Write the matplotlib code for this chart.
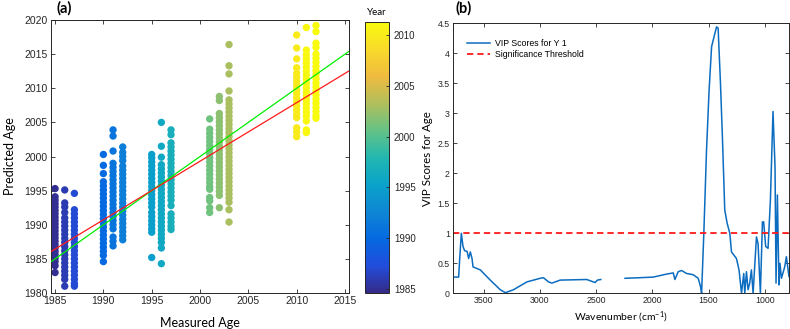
import numpy as np
import matplotlib.pyplot as plt
from matplotlib.colors import LinearSegmentedColormap
from matplotlib.ticker import FormatStrFormatter

plt.rcParams['font.family'] = ['Liberation Sans', 'DejaVu Sans']
plt.rcParams['mathtext.default'] = 'regular'

# ---- panel (a): predicted vs measured age ----
measured_years = [1985, 1986, 1987, 1990, 1991, 1992, 1995, 1996, 1997,
                  2001, 2002, 2003, 2010, 2011, 2012]

pred_1985 = [1995.3, 1994.1, 1993.6, 1993.1, 1992.6, 1992.1, 1991.6, 1991.1, 1990.6,
             1990.1, 1989.6, 1989.1, 1988.6, 1988.1, 1987.6, 1987.1, 1986.6, 1986.1,
             1985.6, 1985.1, 1984.6, 1984.0, 1983.0]
pred_1986 = [1995.1, 1993.2, 1992.6, 1991.8, 1991.0, 1990.4, 1989.8, 1989.2, 1988.6,
             1988.0, 1987.4, 1986.8, 1986.2, 1985.6, 1985.0, 1984.4, 1983.8, 1983.2,
             1982.6, 1982.0, 1981.0]
pred_1987 = [1994.6, 1992.2, 1991.6, 1991.0, 1990.4, 1989.8, 1989.2, 1988.6, 1988.0,
             1987.4, 1986.8, 1986.2, 1985.6, 1985.0, 1984.4, 1983.8, 1983.2, 1982.6,
             1982.0, 1981.4, 1981.0]
pred_1990 = [2000.3, 1998.7, 1997.5, 1996.3, 1995.7, 1995.1, 1994.5, 1993.9, 1993.3,
             1992.7, 1992.1, 1991.5, 1990.9, 1990.3, 1989.7, 1989.1, 1988.5, 1987.9,
             1987.3, 1986.7, 1986.1, 1985.5, 1984.6]
pred_1991 = [2003.9, 2003.0, 2000.8, 1999.0, 1998.4, 1997.8, 1997.2, 1996.6, 1996.0,
             1995.4, 1994.8, 1994.2, 1993.6, 1993.0, 1992.4, 1991.8, 1991.2, 1990.6,
             1990.0, 1989.4, 1988.2, 1987.6, 1986.9]
pred_1992 = [2001.4, 2000.6, 2000.0, 1999.4, 1998.6, 1998.0, 1997.4, 1996.8, 1996.2,
             1995.6, 1995.0, 1994.4, 1993.8, 1993.2, 1992.6, 1992.0, 1991.4, 1990.8,
             1990.2, 1989.6, 1989.0, 1988.4, 1987.8]
pred_1995 = [2000.3, 1999.8, 1999.2, 1998.6, 1998.0, 1997.4, 1996.8, 1996.2, 1995.6,
             1995.0, 1994.4, 1993.8, 1993.2, 1992.6, 1991.8, 1991.2, 1990.6, 1990.0,
             1989.4, 1988.9, 1985.2]
pred_1996 = [2005.0, 2001.5, 1999.9, 1998.8, 1998.2, 1997.6, 1997.0, 1996.4, 1995.8,
             1995.2, 1994.6, 1994.0, 1993.4, 1992.8, 1992.2, 1991.6, 1991.0, 1990.4,
             1989.8, 1989.2, 1988.6, 1988.0, 1987.4, 1986.6, 1984.3]
pred_1997 = [2003.9, 2003.2, 2002.0, 2001.4, 2000.8, 2000.2, 1999.6, 1999.0, 1998.4,
             1997.8, 1997.2, 1996.6, 1996.0, 1995.4, 1994.8, 1994.2, 1993.6, 1992.8,
             1991.6, 1991.0, 1990.4, 1989.8, 1989.3]
pred_2001 = [2005.5, 2004.0, 2003.4, 2002.8, 2002.2, 2001.6, 2001.0, 2000.4, 1999.8,
             1999.2, 1998.6, 1998.0, 1997.4, 1996.8, 1996.2, 1995.6, 1995.2, 1994.0,
             1993.5, 1992.5, 1991.8]
pred_2002 = [2008.8, 2008.2, 2006.3, 2005.7, 2005.1, 2004.5, 2003.9, 2003.3, 2002.7,
             2002.1, 2001.5, 2000.9, 2000.3, 1999.7, 1999.1, 1998.5, 1997.9, 1997.3,
             1996.7, 1996.1, 1995.5, 1994.9, 1994.3, 1992.5]
pred_2003 = [2016.4, 2013.3, 2012.1, 2009.6, 2008.3, 2007.7, 2007.1, 2006.5, 2005.9,
             2005.3, 2004.7, 2004.1, 2003.5, 2002.9, 2002.3, 2001.7, 2001.1, 2000.5,
             1999.9, 1999.3, 1998.7, 1998.1, 1997.5, 1996.9, 1996.3, 1995.7, 1995.1,
             1994.5, 1993.9, 1993.3, 1992.2, 1990.4]
pred_2010 = [2017.8, 2015.9, 2014.3, 2013.0, 2012.2, 2011.6, 2011.0, 2010.4, 2009.8,
             2009.2, 2008.6, 2008.0, 2007.4, 2006.8, 2006.2, 2005.7, 2004.2, 2003.6,
             2002.9]
pred_2011 = [2018.9, 2015.6, 2014.9, 2014.3, 2013.7, 2013.1, 2012.5, 2011.9, 2011.3,
             2010.7, 2010.1, 2009.5, 2008.9, 2008.3, 2007.7, 2007.1, 2006.5, 2005.9,
             2005.2, 2003.9, 2003.5]
pred_2012 = [2019.2, 2018.3, 2016.6, 2016.0, 2015.0, 2014.4, 2013.8, 2013.2, 2012.6,
             2012.0, 2011.4, 2010.8, 2010.2, 2009.6, 2009.0, 2008.4, 2007.8, 2007.2,
             2006.6, 2006.0, 2005.6]

predicted = [pred_1985, pred_1986, pred_1987, pred_1990, pred_1991, pred_1992,
             pred_1995, pred_1996, pred_1997, pred_2001, pred_2002, pred_2003,
             pred_2010, pred_2011, pred_2012]

# regression line (red); green is the 1:1 line
fit_slope = 0.858
fit_at_1985 = 1986.44

# ---- panel (b): VIP scores ----
wn_left = [3775, 3722, 3713, 3698, 3683, 3669, 3647, 3633, 3618, 3603, 3594, 3529,
           3441, 3352, 3307, 3234, 3115, 2997, 2968, 2923, 2893, 2819, 2583, 2509,
           2488, 2458]
vip_left = [0.27, 0.27, 0.56, 1.00, 0.78, 0.71, 0.70, 0.58, 0.69, 0.58, 0.44, 0.39,
            0.22, 0.06, 0.01, 0.06, 0.19, 0.25, 0.26, 0.19, 0.17, 0.22, 0.23, 0.18,
            0.22, 0.23]
wn_right = [2243, 2110, 1992, 1873, 1814, 1799, 1770, 1740, 1695, 1637, 1592, 1571,
            1562, 1542, 1518, 1495, 1473, 1444, 1429, 1415, 1394, 1376, 1356, 1335,
            1311, 1296, 1252, 1229, 1207, 1187, 1178, 1163, 1149, 1134, 1119, 1104,
            1074, 1060, 1039, 1021, 1010, 992, 971, 950, 927, 909, 900, 888, 874,
            865, 852, 823, 808, 785]
vip_right = [0.25, 0.26, 0.27, 0.32, 0.34, 0.23, 0.36, 0.38, 0.33, 0.31, 0.25, 0.11,
             0.00, 1.00, 2.39, 3.39, 4.11, 4.33, 4.44, 4.42, 3.50, 2.56, 1.39, 1.17,
             1.00, 0.69, 0.58, 0.39, 0.00, 0.33, 0.00, 0.36, 0.06, 0.17, 0.39, 0.00,
             0.94, 0.83, 0.00, 1.19, 1.19, 0.78, 0.75, 1.56, 3.03, 2.11, 0.17, 1.64,
             0.14, 0.50, 0.25, 0.44, 0.61, 0.28]
threshold = 1.0

# parula-like colormap
parula = LinearSegmentedColormap.from_list('parula', [
    (0.208, 0.166, 0.529), (0.129, 0.303, 0.862), (0.020, 0.412, 0.882),
    (0.059, 0.527, 0.834), (0.039, 0.637, 0.792), (0.133, 0.718, 0.690),
    (0.393, 0.762, 0.525), (0.694, 0.749, 0.362), (0.936, 0.731, 0.246),
    (0.976, 0.855, 0.165), (0.976, 0.983, 0.054)])

fig = plt.figure(figsize=(7.9, 3.29), dpi=100)
label_font = ['Lato', 'DejaVu Sans']
edge = '#262626'

ax1 = fig.add_axes([0.0642, 0.1094, 0.378, 0.8298])
xs = np.concatenate([[m] * len(p) for m, p in zip(measured_years, predicted)])
ys = np.concatenate(predicted)
sc = ax1.scatter(xs, ys, c=xs, cmap=parula, vmin=1984.6, vmax=2011.3,
                 s=28, linewidths=0, zorder=2)
xl = np.array([1984.55, 2015.45])
ax1.plot(xl, xl, color='#00ee00', lw=0.9, zorder=3)
ax1.plot(xl, fit_at_1985 + fit_slope * (xl - 1985), color='#ff1a1a', lw=0.9, zorder=4)
ax1.set_xlim(xl)
ax1.set_ylim(1980, 2020)
ax1.set_xticks(range(1985, 2016, 5))
ax1.set_yticks(range(1980, 2021, 5))
ax1.tick_params(direction='in', length=3, width=0.6, labelsize=7.5, colors='#262626',
                top=True, right=True, pad=2)
for s in ax1.spines.values():
    s.set_color(edge)
    s.set_linewidth(0.7)
ax1.set_xlabel('Measured Age', family=label_font, fontsize=9, labelpad=8)
ax1.set_ylabel('Predicted Age', family=label_font, fontsize=9, labelpad=6)
fig.text(0.071, 0.975, '(a)', family=label_font, fontweight='bold', fontsize=10.5,
         va='center')

cax = fig.add_axes([0.462, 0.1094, 0.0304, 0.8237])
cb = fig.colorbar(sc, cax=cax)
cb.set_ticks(range(1985, 2011, 5))
cb.ax.tick_params(direction='in', length=2, width=0.6, labelsize=7, colors='#262626')
cb.outline.set_edgecolor(edge)
cb.outline.set_linewidth(0.7)
cax.set_title('Year', family=label_font, fontsize=7, pad=5)

ax2 = fig.add_axes([0.573, 0.1085, 0.4257, 0.8207])
ax2.plot(wn_left, vip_left, color='#0b6cc0', lw=1.1, label='VIP Scores for Y 1')
ax2.plot(wn_right, vip_right, color='#0b6cc0', lw=1.1)
ax2.axhline(threshold, color='#ff1a1a', ls='--', lw=1.3, dashes=(3.5, 2.2),
            label='Significance Threshold')
ax2.set_xlim(3775, 785)
ax2.set_ylim(0, 4.5)
ax2.set_xticks(range(3500, 999, -500))
ax2.set_yticks(np.arange(0, 4.51, 0.5))
ax2.yaxis.set_major_formatter(FormatStrFormatter('%g'))
ax2.tick_params(direction='in', length=3, width=0.6, labelsize=6.3, colors='#262626',
                top=True, right=True, pad=2)
for s in ax2.spines.values():
    s.set_color(edge)
    s.set_linewidth(0.7)
ax2.set_xlabel('Wavenumber (cm$^{-1}$)', family=label_font, fontsize=7.5, labelpad=3)
ax2.set_ylabel('VIP Scores for Age', family=label_font, fontsize=8.3, labelpad=3)
ax2.legend(loc='upper left', bbox_to_anchor=(0.02, 0.97), frameon=False,
           fontsize=6.3, handlelength=2.6, handletextpad=0.6, labelspacing=0.2)
fig.text(0.576, 0.975, '(b)', family=label_font, fontweight='bold', fontsize=10.5,
         va='center')

fig.savefig('out.png', dpi=100)
